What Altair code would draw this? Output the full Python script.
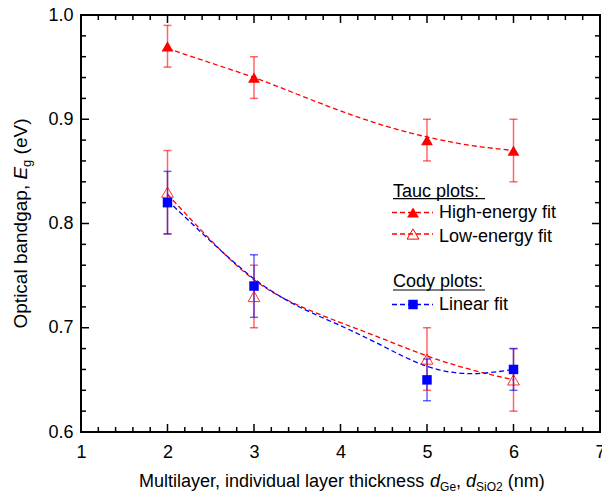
import altair as alt
import pandas as pd

# ---------------- data ----------------
thickness = [2, 3, 5, 6]

high_E = [0.97, 0.94, 0.88, 0.87]
high_lo = [0.95, 0.92, 0.86, 0.84]
high_hi = [0.99, 0.96, 0.90, 0.90]

low_E = [0.83, 0.73, 0.67, 0.65]
low_lo = [0.79, 0.70, 0.64, 0.62]
low_hi = [0.87, 0.76, 0.70, 0.68]

cody_E = [0.82, 0.74, 0.65, 0.66]
cody_lo = [0.79, 0.71, 0.63, 0.64]
cody_hi = [0.85, 0.77, 0.67, 0.68]

fit_x = [2, 2.5, 3, 3.5, 4, 4.5, 5, 5.5, 6]
high_fit = [0.968, 0.954, 0.940, 0.924, 0.908, 0.894, 0.883, 0.875, 0.870]
low_fit = [0.828, 0.784, 0.746, 0.722, 0.705, 0.689, 0.673, 0.660, 0.650]
cody_fit = [0.822, 0.783, 0.747, 0.721, 0.702, 0.682, 0.663, 0.656, 0.660]

series = ["High-energy fit", "Low-energy fit", "Linear fit"]
x_ticks = [1, 2, 3, 4, 5, 6, 7]
y_ticks = [0.6, 0.7, 0.8, 0.9, 1.0]
x_minor = [round(1 + 0.2 * i, 1) for i in range(31) if i % 5]
y_minor = [round(0.6 + 0.02 * i, 2) for i in range(21) if i % 5]

# ---------------- tables ----------------
pts = pd.DataFrame({
    "x": thickness * 3,
    "y": high_E + low_E + cody_E,
    "lo": high_lo + low_lo + cody_lo,
    "hi": high_hi + low_hi + cody_hi,
    "s": [series[0]] * 4 + [series[1]] * 4 + [series[2]] * 4,
})
fits = pd.DataFrame({
    "x": fit_x * 3,
    "y": high_fit + low_fit + cody_fit,
    "s": [series[0]] * 9 + [series[1]] * 9 + [series[2]] * 9,
})

RED = "#ff0000"
BLUE = "#0000ff"
FONT = "Liberation Sans"
W, H = 519, 417

xs = alt.Scale(domain=[1, 7], nice=False, zero=False)
ys = alt.Scale(domain=[0.6, 1.0], nice=False, zero=False)
color = alt.Color("s:N", scale=alt.Scale(domain=series, range=[RED, RED, BLUE]), legend=None)


def label_axis(orient, values, fmt, pad):
    return alt.Axis(orient=orient, values=values, ticks=False, domain=False, grid=False,
                    labels=True, labelPadding=pad, labelFontSize=18, labelFont=FONT,
                    labelColor="black", labelFlush=False, labelOverlap=False,
                    format=fmt, title=None)


# fit curves (carry the labelled axes)
fit_layer = alt.Chart(fits).mark_line(
    strokeDash=[5, 3], strokeWidth=1.3, interpolate="natural"
).encode(
    x=alt.X("x:Q", scale=xs, axis=label_axis("bottom", x_ticks, "d", 11)),
    y=alt.Y("y:Q", scale=ys, axis=label_axis("left", y_ticks, ".1f", 8)),
    color=color,
    detail="s:N",
)

# error bars: vertical rules
err_rules = alt.Chart(pts).mark_rule(strokeWidth=1.5, opacity=0.6).encode(
    x=alt.X("x:Q", scale=xs, axis=None),
    y=alt.Y("lo:Q", scale=ys, axis=None),
    y2="hi:Q",
    color=color,
)

# error bar caps
err_caps = alt.Chart(pts).transform_fold(["lo", "hi"], as_=["k", "v"]).mark_tick(
    orient="horizontal", size=8, thickness=1.5, opacity=0.6
).encode(
    x=alt.X("x:Q", scale=xs, axis=None),
    y=alt.Y("v:Q", scale=ys, axis=None),
    color=color,
)

high_pts = alt.Chart(pts).transform_filter(alt.datum.s == series[0]).mark_point(
    shape="triangle-up", filled=True, size=140, color=RED, opacity=1
).encode(x=alt.X("x:Q", scale=xs, axis=None), y=alt.Y("y:Q", scale=ys, axis=None))

low_pts = alt.Chart(pts).transform_filter(alt.datum.s == series[1]).mark_point(
    shape="triangle-up", filled=False, size=140, color=RED, strokeWidth=1, opacity=0.8
).encode(x=alt.X("x:Q", scale=xs, axis=None), y=alt.Y("y:Q", scale=ys, axis=None))

cody_pts = alt.Chart(pts).transform_filter(alt.datum.s == series[2]).mark_point(
    shape="square", filled=True, size=90, color=BLUE, opacity=1
).encode(x=alt.X("x:Q", scale=xs, axis=None), y=alt.Y("y:Q", scale=ys, axis=None))


# ---------------- inward ticks on all four sides ----------------
def xticks(values, length, top):
    return alt.Chart(pd.DataFrame({"t": values})).mark_tick(
        orient="vertical", size=length, thickness=1.5, color="black", opacity=1,
        yOffset=(length / 2 if top else -length / 2)
    ).encode(x=alt.X("t:Q", scale=xs, axis=None), y=alt.value(0 if top else H))


def yticks(values, length, right):
    return alt.Chart(pd.DataFrame({"t": values})).mark_tick(
        orient="horizontal", size=length, thickness=1.5, color="black", opacity=1,
        xOffset=(-length / 2 if right else length / 2)
    ).encode(y=alt.Y("t:Q", scale=ys, axis=None), x=alt.value(W if right else 0))


tick_layers = [xticks(x_ticks, 8, False), xticks(x_minor, 5, False),
               xticks(x_ticks, 8, True), xticks(x_minor, 5, True),
               yticks(y_ticks, 8, False), yticks(y_minor, 5, False),
               yticks(y_ticks, 8, True), yticks(y_minor, 5, True)]

# ---------------- fixed annotations (legend, titles) ----------------
one = pd.DataFrame({"_": [0]})

CW = {' ': 278, '(': 333, ')': 333, ',': 278, '2': 556, 'E': 667, 'G': 778, 'M': 833,
      'O': 778, 'S': 667, 'V': 667, 'a': 556, 'b': 556, 'c': 500, 'd': 556, 'e': 556,
      'g': 556, 'h': 556, 'i': 222, 'k': 500, 'l': 222, 'm': 833, 'n': 556, 'o': 556,
      'p': 556, 'r': 333, 's': 500, 't': 278, 'u': 556, 'v': 500, 'y': 500}


def tw(s, fs):
    return sum(CW.get(c, 556) for c in s) * fs / 1000


def text(t, x, y, fs=18, italic=False, angle=0):
    lead = len(t) - len(t.lstrip(" "))
    shift = lead * 278 * fs / 1000
    if angle:
        y -= shift
    else:
        x += shift
    kw = dict(text=t.strip(" "), align="left", baseline="alphabetic", font=FONT, fontSize=fs,
              color="black", fontStyle="italic" if italic else "normal")
    if angle:
        kw["angle"] = angle
    return alt.Chart(one).mark_text(**kw).encode(x=alt.value(x), y=alt.value(y))


def hline(x1, x2, y, col="black", dash=None, sw=1.2):
    kw = dict(color=col, strokeWidth=sw)
    if dash:
        kw["strokeDash"] = dash
    return alt.Chart(one).mark_rule(**kw).encode(x=alt.value(x1), x2=alt.value(x2), y=alt.value(y))


def marker(x, y, shape, col, filled, size):
    return alt.Chart(one).mark_point(shape=shape, filled=filled, color=col, size=size,
                                     opacity=1, strokeWidth=1).encode(
        x=alt.value(x), y=alt.value(y))


ann = []
# legend
LX = 312
ann += [text("Tauc plots:", LX, 181.7), hline(LX, LX + tw("Tauc plots:", 18), 183.6)]
ann += [hline(311, 352, 197.5, RED, [5, 3], 1.3), marker(332, 197.5, "triangle-up", RED, True, 140),
        text(series[0], 358, 203.3)]
ann += [hline(311, 352, 219, RED, [5, 3], 1.3), marker(332, 219, "triangle-up", RED, False, 140),
        text(series[1], 358, 226.7)]
ann += [text("Cody plots:", LX, 272.3), hline(LX, LX + tw("Cody plots:", 18), 275)]
ann += [hline(311, 352, 289.5, BLUE, [5, 3], 1.3), marker(332, 289.5, "square", BLUE, True, 90),
        text(series[2], 358, 295)]

# x-axis title with italic symbols and subscripts
XF, XS = 18, 12
xt = [("Multilayer, individual layer thickness ", XF, False, 0), ("d", XF, True, 0),
      ("Ge", XS, False, 4), (", ", XF, False, 0), ("d", XF, True, 0),
      ("SiO2", XS, False, 4), (" (nm)", XF, False, 0)]
total = sum(tw(t, fs) for t, fs, _, _ in xt)
cx = 58
for t, fs, it, dy in xt:
    ann.append(text(t, cx, 471.7 + dy, fs, it))
    cx += tw(t, fs)

# y-axis title (rotated)
YF, YS = 19, 13
yt = [("Optical bandgap, ", YF, False, 0), ("E", YF, True, 0), ("g", YS, False, 4),
      (" (eV)", YF, False, 0)]
total = sum(tw(t, fs) for t, fs, _, _ in yt)
cy = H / 2 + total / 2
for t, fs, it, dx in yt:
    ann.append(text(t, -54 + dx, cy, fs, it, angle=270))
    cy -= tw(t, fs)

chart = alt.layer(
    fit_layer, *tick_layers, err_rules, err_caps, low_pts, high_pts, cody_pts, *ann
).resolve_axis(
    x="independent", y="independent"
).properties(
    width=W, height=H,
    padding={"left": 81, "top": 15, "right": 2, "bottom": 62},
    autosize=alt.AutoSizeParams(type="none"),
).configure_view(
    stroke="black", strokeWidth=2
).configure_axis(
    grid=False
)

chart.save("out.html", embed_options={"renderer": "svg", "actions": False})
